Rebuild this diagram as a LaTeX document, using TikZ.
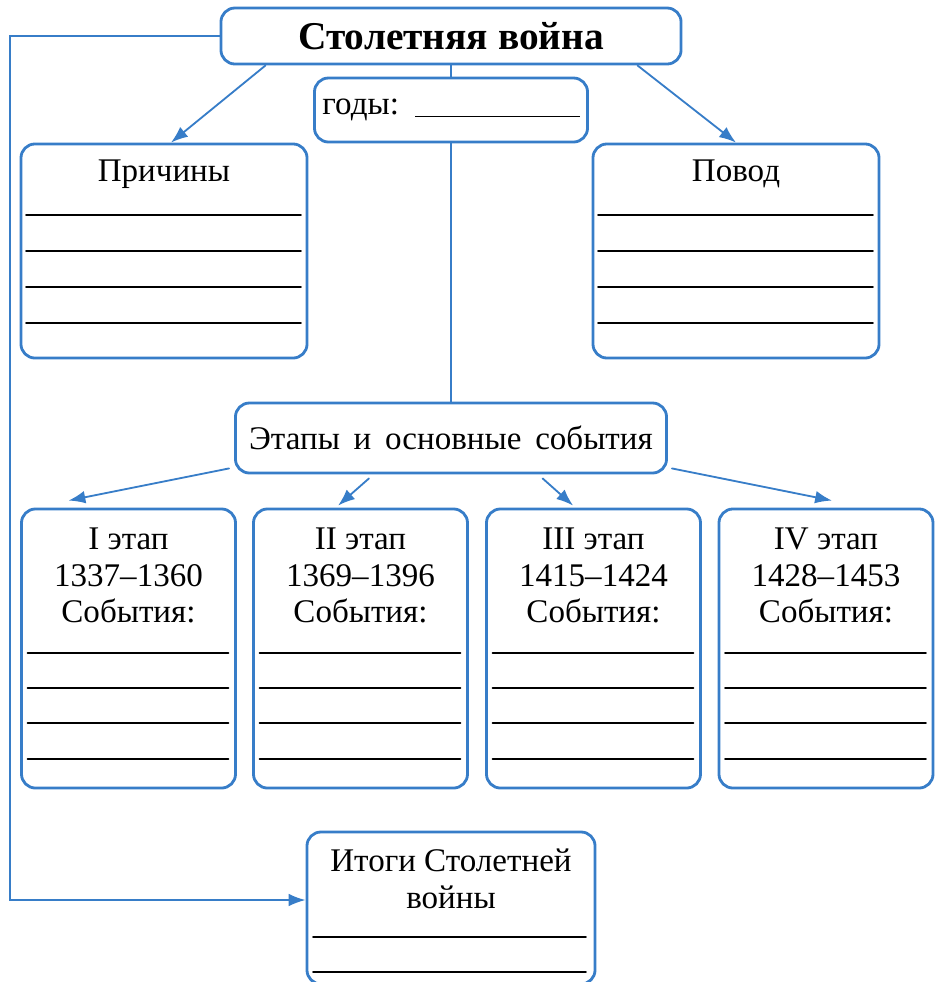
\documentclass[tikz,border=0pt]{standalone}
\usepackage{fontspec}
\setmainfont{Liberation Serif}
\usepackage{tikz}
\usetikzlibrary{arrows.meta}
\usetikzlibrary{positioning}
\definecolor{schemeblue}{RGB}{55,125,200}
\newcommand{\schemetext}{\fontsize{23.5}{26}\selectfont}
\newcommand{\schemetitle}{\fontsize{28}{30}\selectfont\bfseries}
\tikzset{>={Latex[length=12pt,width=9pt]},
  every node/.style={font=\schemetext, inner sep=0pt},
  box/.style={draw=schemeblue, line width=2pt, rounded corners=0.35cm},
  stagebox/.style={box, minimum width=5.35cm, minimum height=6.975cm},
  conn/.style={draw=schemeblue, line width=1.3pt},
  uline/.style={line width=1.2pt}}

\begin{document}
\begin{tikzpicture}[x=0.025cm,y=-0.025cm,line cap=round]
  \useasboundingbox (0,0) rectangle (935,982);

  \node [box, minimum width=11.5cm, minimum height=1.4cm, font=\schemetitle] (title) at (451,36) {Столетняя война};
  \node [box, minimum width=6.825cm, minimum height=1.6cm] (gody) at (451,110) {годы:\, \rule[-2pt]{4.1cm}{1.2pt}};
  \node [box, minimum width=7.15cm, minimum height=5.35cm] (prich) at (164,251) {};
  \node [box, minimum width=7.15cm, minimum height=5.35cm] (povod) at (736,251) {};
  \node [box, minimum width=10.775cm, minimum height=1.75cm] (etapy) at (451,438) {Этапы~\,и~\,основные~\,события};

  \node [stagebox] (st1) at (128.5,648.5) {};
  \node [stagebox] (st2) at (360.5,648.5) {};
  \node [stagebox] (st3) at (593.5,648.5) {};
  \node [stagebox] (st4) at (826,648.5) {};

  \node [box, minimum width=7.2cm, minimum height=3.8cm] (itogi) at (451,908) {};

  % texts
  \node [below=0.42cm of prich.north] (prichT) {Причины};
  \node [below=0.42cm of povod.north] (povodT) {Повод};
  \node [align=center, below=0.5cm of st1.north] (st1T) {I этап\\1337--1360\\События:};
  \node [align=center, below=0.5cm of st2.north] (st2T) {II этап\\1369--1396\\События:};
  \node [align=center, below=0.5cm of st3.north] (st3T) {III этап\\1415--1424\\События:};
  \node [align=center, below=0.5cm of st4.north] (st4T) {IV этап\\1428--1453\\События:};
  \node [align=center, below=0.45cm of itogi.north] (itogiT) {Итоги Столетней\\войны};

  % lines to fill in
  \foreach \y in {215,251,287,323} {
    \draw [uline] (26,\y) -- (301,\y);
    \draw [uline] (598,\y) -- (873,\y);
  }
  \foreach \x in {128.5,360.5,593.5,826}
    \foreach \y in {653,688,723,759}
      \draw [uline] (\x-101,\y) -- (\x+100,\y);
  \foreach \y in {937,972}
    \draw [uline] (313,\y) -- (586,\y);

  % connectors
  \draw [conn,->] ([xshift=1.15cm]title.south west) -- ([xshift=0.175cm]prich.north);
  \draw [conn,->] ([xshift=-1.125cm]title.south east) -- (povod.north);
  \draw [conn] (title.south) -- (gody.north);
  \draw [conn] (gody.south) -- (etapy.north);

  \coordinate (lft) at (10,36);
  \draw [conn,->] (title.west) -- (lft) |- ([yshift=0.2cm]itogi.west);

  \draw [conn,->] ([shift={(-0.125cm,0.15cm)}]etapy.south west) -- ([shift={(-1.5cm,0.175cm)}]st1.north);
  \draw [conn,->] ([xshift=-2.05cm,yshift=-0.1cm]etapy.south) -- ([shift={(-0.56cm,0.05cm)}]st2.north);
  \draw [conn,->] ([xshift=2.29cm,yshift=-0.1cm]etapy.south) -- ([shift={(-0.51cm,0.05cm)}]st3.north);
  \draw [conn,->] ([shift={(0.1cm,0.15cm)}]etapy.south east) -- ([shift={(0.15cm,0.175cm)}]st4.north);

\end{tikzpicture}
\end{document}
